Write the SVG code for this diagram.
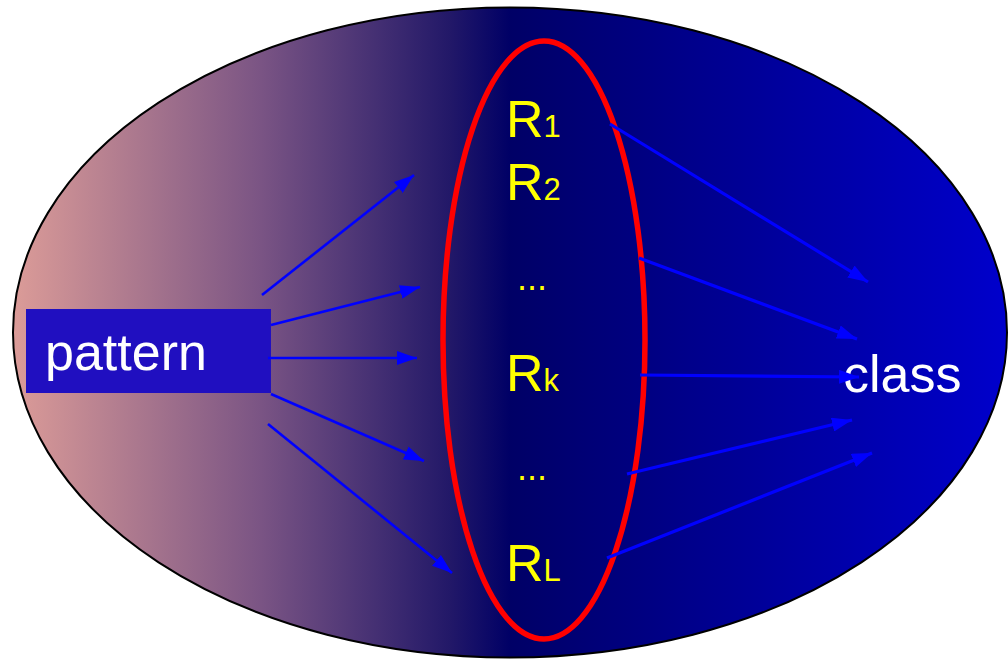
<svg xmlns="http://www.w3.org/2000/svg" width="1008" height="660" viewBox="0 0 1008 660">
<style>
.lbl{font-family:"Liberation Sans",Arial,sans-serif;font-size:52px;fill:#ffff00}
.sub{font-size:31px}
.dots{font-size:36px}
.wt{font-family:"Liberation Sans",Arial,sans-serif;font-size:52px;fill:#ffffff}
.conn line{stroke:#0000ff;fill:none;marker-end:url(#ah)}
.l{stroke-width:2.6}
.r{stroke-width:3.2}
</style>
<defs>
<linearGradient id="bg" gradientUnits="userSpaceOnUse" x1="12" y1="0" x2="1008" y2="0">
<stop offset="0" stop-color="#dc9c98"/>
<stop offset="0.25" stop-color="#7a5484"/>
<stop offset="0.44" stop-color="#221868"/>
<stop offset="0.5" stop-color="#000066"/>
<stop offset="1" stop-color="#0000cc"/>
</linearGradient>
<marker id="ah" markerUnits="userSpaceOnUse" markerWidth="20" markerHeight="14" refX="20" refY="7" orient="auto">
<path d="M0,0 L20,7 L0,14 z" fill="#0000ff"/>
</marker>
</defs>
<g id="background">
<ellipse cx="510" cy="332.5" rx="497" ry="325" fill="url(#bg)" stroke="#000000" stroke-width="2"/>
</g>
<g id="rules">
<ellipse cx="544" cy="340" rx="101" ry="299" fill="none" stroke="#ff0000" stroke-width="5.5"/>
<text class="lbl" x="506" y="137">R<tspan class="sub">1</tspan></text>
<text class="lbl" x="506" y="200">R<tspan class="sub">2</tspan></text>
<text class="lbl dots" x="517" y="290">...</text>
<text class="lbl" x="506" y="391">R<tspan class="sub">k</tspan></text>
<text class="lbl dots" x="517" y="480">...</text>
<text class="lbl" x="506" y="581">R<tspan class="sub">L</tspan></text>
</g>
<g id="pattern">
<rect x="26" y="309" width="245" height="84" fill="#200fc0"/>
<text class="wt" x="45" y="370">pattern</text>
</g>
<g id="class">
<text class="wt" x="843" y="392">class</text>
</g>
<g id="connectors" class="conn">
<line class="l" x1="262" y1="295" x2="414" y2="175"/>
<line class="l" x1="271" y1="325" x2="420" y2="287"/>
<line class="l" x1="268" y1="358" x2="417" y2="358"/>
<line class="l" x1="271" y1="394" x2="424" y2="461"/>
<line class="l" x1="268" y1="424" x2="452" y2="573"/>
<line class="r" x1="610" y1="124" x2="868" y2="282"/>
<line class="r" x1="639" y1="258" x2="857" y2="339"/>
<line class="r" x1="640" y1="375" x2="859" y2="377"/>
<line class="r" x1="627" y1="474" x2="852" y2="420"/>
<line class="r" x1="607" y1="558" x2="872" y2="453"/>
</g>
</svg>
